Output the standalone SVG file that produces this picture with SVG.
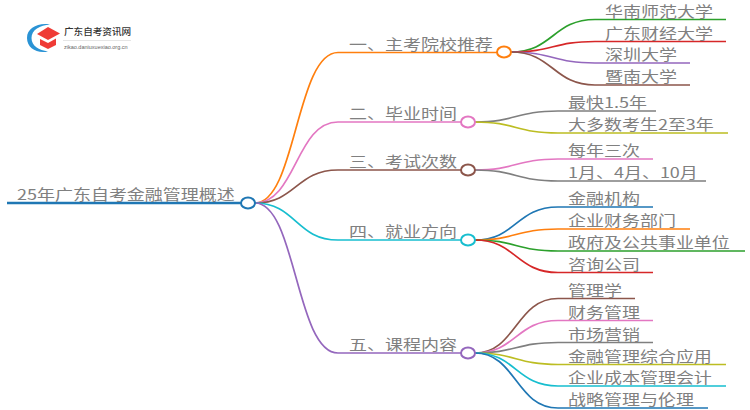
<svg xmlns="http://www.w3.org/2000/svg" width="750" height="410" viewBox="0 0 750 410">
<style>
text{font-family:"Noto Sans CJK SC","Liberation Sans",sans-serif;font-size:14.400px;fill:#808080}
#connectors path{fill:none;stroke-width:1.700}
ellipse{fill:#fff;stroke-width:2}
.o{stroke:#ff7f0e}.p{stroke:#e377c2}.b{stroke:#8c564b}.c{stroke:#17becf}.u{stroke:#9467bd}.l{stroke:#1f77b4}.g{stroke:#2ca02c}.r{stroke:#d62728}.y{stroke:#7f7f7f}.v{stroke:#bcbd22}
</style>
<rect width="750" height="410" fill="#fff"/>
<g id="logo">
<path d="M50 24.500C38 22.500 27 28 27 38C27 48 37 54 48 51.500C39 50 31.500 46 31.500 38C31.500 30 40 25 50 24.500Z" fill="#2a93d5"/>
<path d="M37 34L48 27L60 33.500L48 40Z" fill="#ef3b36"/>
<path d="M40 39L48 43L56 38.500V45L48 49L40 45Z" fill="#ef3b36"/>
<text transform="translate(64 35)" style="font-size:9.600px;fill:#333;font-weight:500">广东自考资讯网</text>
<rect x="63" y="40" width="68" height="1" fill="#e5e5e5"/>
<text transform="translate(64 49)" style="font-size:5.500px;fill:#666;font-family:'Liberation Sans',sans-serif">zikao.daniuxuexiao.org.cn</text>
</g>
<g id="connectors">
<path class="l" style="stroke-width:2.500" d="M7 203H241"/>
<path class="o" d="M255 203C296 203 296 52.500 338 52.500H497"/>
<path class="p" d="M255 203C296 203 296 122 338 122H461"/>
<path class="b" d="M255 203C296 203 296 170 338 170H461"/>
<path class="c" d="M255 203C296 203 296 240 338 240H461"/>
<path class="u" d="M255 203C296 203 296 353 338 353H461"/>
<path class="g" d="M511 52C553 52 553 19.500 595 19.500H726"/>
<path class="r" d="M511 52C553 52 553 41.500 595 41.500H726"/>
<path class="u" d="M511 52C553 52 553 63 595 63H690"/>
<path class="b" d="M511 52C553 52 553 85 595 85H690"/>
<path class="y" d="M475 122C516 122 516 111 558 111H656"/>
<path class="v" d="M475 122C516 122 516 133 558 133H728"/>
<path class="p" d="M475 170C516 170 516 159 558 159H653"/>
<path class="y" d="M475 170C516 170 516 181 558 181H706"/>
<path class="l" d="M475 240C516 240 516 207 558 207H653"/>
<path class="o" d="M475 240C516 240 516 229 558 229H690"/>
<path class="g" d="M475 240C516 240 516 251 558 251H745"/>
<path class="r" d="M475 240C516 240 516 272.500 558 272.500H653"/>
<path class="b" d="M475 353C516 353 516 298.500 558 298.500H635"/>
<path class="p" d="M475 353C516 353 516 320.500 558 320.500H653"/>
<path class="y" d="M475 353C516 353 516 342.500 558 342.500H653"/>
<path class="v" d="M475 353C516 353 516 364.500 558 364.500H726"/>
<path class="c" d="M475 353C516 353 516 386 558 386H726"/>
<path class="l" d="M475 353C516 353 516 408 558 408H708"/>
</g>
<g id="root"><text transform="translate(17 200) scale(1.250 1)">25年广东自考金融管理概述</text><ellipse class="l" cx="248" cy="203" rx="7" ry="5.500"/></g>
<g id="n1"><text transform="translate(349 49.500) scale(1.250 1)">一、主考院校推荐</text><ellipse class="o" cx="504" cy="52" rx="7" ry="5.500"/></g>
<g id="n2"><text transform="translate(349 119) scale(1.250 1)">二、毕业时间</text><ellipse class="p" cx="468" cy="122" rx="7" ry="5.500"/></g>
<g id="n3"><text transform="translate(349 167) scale(1.250 1)">三、考试次数</text><ellipse class="b" cx="468" cy="170" rx="7" ry="5.500"/></g>
<g id="n4"><text transform="translate(349 237) scale(1.250 1)">四、就业方向</text><ellipse class="c" cx="468" cy="240" rx="7" ry="5.500"/></g>
<g id="n5"><text transform="translate(349 350) scale(1.250 1)">五、课程内容</text><ellipse class="u" cx="468" cy="353" rx="7" ry="5.500"/></g>
<g id="n1-1"><text transform="translate(605 16.500) scale(1.250 1)">华南师范大学</text></g>
<g id="n1-2"><text transform="translate(605 38.500) scale(1.250 1)">广东财经大学</text></g>
<g id="n1-3"><text transform="translate(605 60) scale(1.250 1)">深圳大学</text></g>
<g id="n1-4"><text transform="translate(605 82) scale(1.250 1)">暨南大学</text></g>
<g id="n2-1"><text transform="translate(568 108) scale(1.250 1)">最快1.5年</text></g>
<g id="n2-2"><text transform="translate(568 130) scale(1.250 1)">大多数考生2至3年</text></g>
<g id="n3-1"><text transform="translate(568 156) scale(1.250 1)">每年三次</text></g>
<g id="n3-2"><text transform="translate(568 178) scale(1.250 1)">1月、4月、10月</text></g>
<g id="n4-1"><text transform="translate(568 204) scale(1.250 1)">金融机构</text></g>
<g id="n4-2"><text transform="translate(568 226) scale(1.250 1)">企业财务部门</text></g>
<g id="n4-3"><text transform="translate(568 248) scale(1.250 1)">政府及公共事业单位</text></g>
<g id="n4-4"><text transform="translate(568 269.500) scale(1.250 1)">咨询公司</text></g>
<g id="n5-1"><text transform="translate(568 295.500) scale(1.250 1)">管理学</text></g>
<g id="n5-2"><text transform="translate(568 317.500) scale(1.250 1)">财务管理</text></g>
<g id="n5-3"><text transform="translate(568 339.500) scale(1.250 1)">市场营销</text></g>
<g id="n5-4"><text transform="translate(568 361.500) scale(1.250 1)">金融管理综合应用</text></g>
<g id="n5-5"><text transform="translate(568 383) scale(1.250 1)">企业成本管理会计</text></g>
<g id="n5-6"><text transform="translate(568 405) scale(1.250 1)">战略管理与伦理</text></g>
</svg>
